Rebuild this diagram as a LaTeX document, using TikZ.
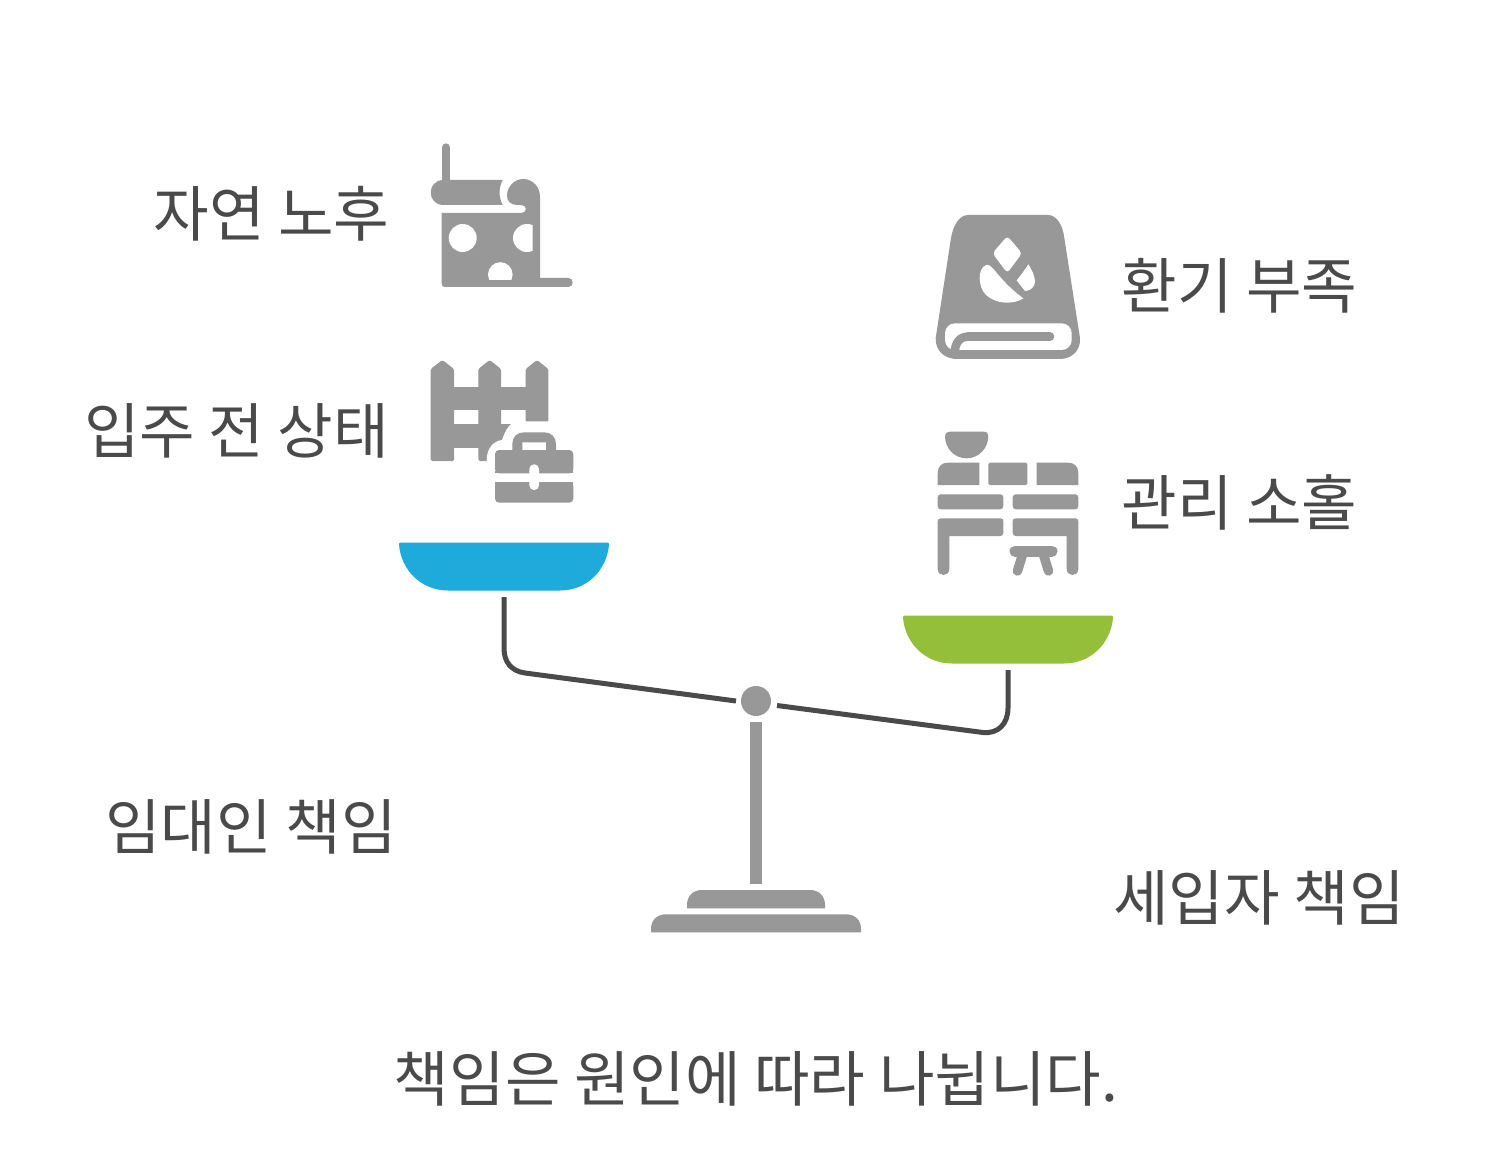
\documentclass[tikz,border=0pt]{standalone}
\usepackage{fontspec}
\setmainfont{Noto Sans CJK KR}
\definecolor{icongray}{HTML}{989898}
\definecolor{txt}{HTML}{4A4A4A}
\definecolor{panblue}{HTML}{1EABDC}
\definecolor{pangreen}{HTML}{93BF3A}
\tikzset{
  lab/.style={text=txt,inner sep=0pt,font=\fontsize{60.4}{60}\selectfont},
  ic/.style={fill=icongray,draw=none},
  wh/.style={fill=white,draw=none},
  beam/.style={draw=txt,line width=5pt,line cap=butt}
}
\begin{document}
\begin{tikzpicture}[x=1pt,y=-1pt]
\useasboundingbox (0,0) rectangle (1494,1155);
\fill[white] (0,0) rectangle (1494,1155);
% labels
\node[lab] (l1) at (271.5,214) {자연 노후};
\node[lab] (l2) at (236.5,431) {입주 전 상태};
\node[lab] (r1) at (1239.5,286) {환기 부족};
\node[lab] (r2) at (1239.5,502) {관리 소홀};
\node[lab] (lt) at (251,827) {임대인 책임};
\node[lab] (rt) at (1259,898) {세입자 책임};
\node[lab] (bt) at (756,1079) {책임은 원인에 따라 나뉩니다.};
% icon 1
\draw[icongray,line width=8.3pt,line cap=round] (445.85,147.5) -- (445.85,185);
\fill[ic] (443.5,180) -- (502.7,180) .. controls (498.5,188) and (498.5,197) .. (502.7,205) -- (443.5,205)
  .. controls (426.5,205) and (426.5,180) .. (443.5,180) -- cycle;
\fill[ic] (441.7,213) -- (520,213) .. controls (524,213) and (526,211) .. (526,209)
  .. controls (526,207) and (524,205) .. (520,205) -- (517,205)
  .. controls (511,205) and (507,201) .. (507,196)
  .. controls (507,186) and (515,179) .. (523,179)
  .. controls (533,179) and (540,187) .. (540,197) -- (540,278) -- (568.5,278)
  .. controls (574,278) and (574,287) .. (568.5,287) -- (445,287)
  .. controls (443,287) and (441.7,286) .. (441.7,284) -- cycle;
\fill[wh] (462.7,238) circle (14);
\begin{scope}
\clip (500,220) rectangle (532.7,260);
\fill[wh] (527,238) circle (14);
\end{scope}
\begin{scope}
\clip (480,255) rectangle (520,280);
\fill[wh] (500.3,274.5) circle (12.3);
\end{scope}
% icon 2
\foreach \a/\b in {430.7/454,478.3/501}{
  \fill[ic,rounded corners=1.5pt] (\a,461) -- (\a,369) -- ({(\a+\b)/2},360) -- (\b,369) -- (\b,461) -- cycle;
}
\fill[ic,rounded corners=1.5pt] (525.7,422.3) -- (525.7,369) -- (537,360) -- (548.3,369) -- (548.3,422.3) -- cycle;
\fill[ic] (450,387.3) rectangle (530,410);
\fill[ic] (450,424) rectangle (530,447.7);
\fill[wh] (486.7,510) -- (486.7,460) .. controls (486.7,449) and (493,441) .. (502,440)
  .. controls (505,432) and (508,424) .. (516,421.5) -- (580,421.5) -- (580,510) -- cycle;
\fill[ic,even odd rule] (512.3,452) -- (512.3,444) .. controls (512.3,437) and (517,432.3) .. (524,432.3) -- (544,432.3)
  .. controls (551,432.3) and (556,437) .. (556,444) -- (556,452) -- cycle
  (522.3,452) -- (522.3,442.3) -- (546,442.3) -- (546,452) -- cycle;
\fill[ic,rounded corners=4pt] (495,473.3) -- (495,450) -- (573.3,450) -- (573.3,473.3) -- cycle;
\fill[ic,rounded corners=4pt] (495,482.3) -- (495,502.7) -- (573.3,502.7) -- (573.3,482.3) -- cycle;
\fill[ic] (495,471) rectangle (573.3,473.3);
\fill[ic] (495,482.3) rectangle (573.3,485);
\fill[wh,rounded corners=4.7pt] (529.3,490) rectangle (539,464.3);
% icon 3
\fill[ic] (968,215) -- (1048,215) .. controls (1057,215) and (1063,226) .. (1064.3,238)
  -- (1080,338) .. controls (1081,350) and (1072,359) .. (1060,359) -- (957,359)
  .. controls (944,359) and (935,350) .. (935.7,338) -- (951,238)
  .. controls (953,226) and (959,215) .. (968,215) -- cycle;
\fill[wh,rounded corners=10pt] (945,323.3) rectangle (1071.7,350);
\draw[icongray,line width=8.5pt,line cap=round] (1050,336.7) -- (968,336.7);
\draw[icongray,line width=8.5pt] (968,336.7) .. controls (960,336.7) and (955,342) .. (954.5,354);
\fill[wh,rounded corners=3.5pt] (1007.3,236) -- (1022,253.3) -- (1007.3,273) -- (992.5,253.3) -- cycle;
\fill[wh] (1028.3,264.3) .. controls (1031,268) and (1035,276) .. (1035,281.7)
  .. controls (1035,287) and (1030,291) .. (1025,291) -- (1016.7,280.5) .. controls (1020,276) and (1025,270) .. (1028.3,264.3) -- cycle;
\fill[wh] (986,265) .. controls (992,262) and (997,279) .. (1023.5,298.5)
  .. controls (1012,305) and (996,304) .. (986,295)
  .. controls (978,287) and (977,269) .. (986,265) -- cycle;
% icon 4
\fill[ic] (950,431.7) -- (983,431.7) .. controls (987,431.7) and (988.3,433) .. (988.3,436)
  .. controls (988.3,448) and (979,458.3) .. (966.6,458.3)
  .. controls (954,458.3) and (945,448) .. (945,436)
  .. controls (945,433) and (947,431.7) .. (950,431.7) -- cycle;
\fill[ic] (948,462.7) -- (979.3,462.7) -- (979.3,485) -- (937.7,485) -- (937.7,473) .. controls (937.7,466) and (942,462.7) .. (948,462.7) -- cycle;
\fill[ic,rounded corners=1.5pt] (988.3,462.7) rectangle (1027.3,485);
\fill[ic] (1036.7,462.7) -- (1068,462.7) .. controls (1074,462.7) and (1078.3,466) .. (1078.3,473) -- (1078.3,485) -- (1036.7,485) -- cycle;
\fill[ic,rounded corners=3pt] (937.7,494.3) rectangle (1003.3,509.3);
\fill[ic,rounded corners=3pt] (1012.7,494.3) rectangle (1078.3,509.3);
\fill[ic] (941,518.3) -- (1000.3,518.3) .. controls (1002.5,518.3) and (1003.3,519.5) .. (1003.3,521) -- (1003.3,533)
  .. controls (1003.3,535) and (1002,536) .. (1000.3,536) -- (949.3,536) -- (949.3,569)
  .. controls (949.3,577) and (937.7,577) .. (937.7,569) -- (937.7,521) .. controls (937.7,519.5) and (939,518.3) .. (941,518.3) -- cycle;
\fill[ic] (1075.3,518.3) -- (1016,518.3) .. controls (1013.5,518.3) and (1012.7,519.5) .. (1012.7,521) -- (1012.7,533)
  .. controls (1012.7,535) and (1014,536) .. (1016,536) -- (1066.7,536) -- (1066.7,569)
  .. controls (1066.7,577) and (1078.3,577) .. (1078.3,569) -- (1078.3,521) .. controls (1078.3,519.5) and (1077,518.3) .. (1075.3,518.3) -- cycle;
\draw[icongray,line width=11pt,line cap=round] (1015,551.2) -- (1052,551.2);
\draw[icongray,line width=9.5pt,line cap=round] (1023,553) -- (1017.5,571);
\draw[icongray,line width=9.5pt,line cap=round] (1043,553) -- (1048.5,571);
% pans
\fill[panblue] (401,542.5) -- (607,542.5) .. controls (608.5,542.5) and (609,543.5) .. (609,544.5)
  .. controls (607,570) and (587,590.5) .. (560,590.5) -- (448,590.5)
  .. controls (421,590.5) and (401,570) .. (399,544.5) .. controls (399,543.5) and (399.5,542.5) .. (401,542.5) -- cycle;
\fill[pangreen] (905,615.5) -- (1111,615.5) .. controls (1112.5,615.5) and (1113,616.5) .. (1113,617.5)
  .. controls (1111,643) and (1091,663.5) .. (1064,663.5) -- (952,663.5)
  .. controls (925,663.5) and (905,643) .. (903,617.5) .. controls (903,616.5) and (903.5,615.5) .. (905,615.5) -- cycle;
% beam
\coordinate (bl) at (504,597);
\coordinate (br) at (1008,670);
\draw[beam] (bl) -- (504,648) .. controls (504,662) and (511,671) .. (525,673) -- (736,701);
\draw[beam] (br) -- (1008,708) .. controls (1008,724) and (998,734) .. (983,732.5) -- (777,705.5);
% stand
\node[circle,fill=icongray,minimum size=30pt,inner sep=0pt] (pivot) at (756,701) {};
\fill[ic] (750,722.3) rectangle (762,884.3);
\fill[ic] (687,908.3) -- (687,905) .. controls (687,896) and (693,890) .. (702,890) -- (810,890)
  .. controls (819,890) and (825,896) .. (825,905) -- (825,908.3) -- cycle;
\fill[ic] (651,932.3) -- (651,929) .. controls (651,920) and (657,914.3) .. (666,914.3) -- (846,914.3)
  .. controls (855,914.3) and (861,920) .. (861,929) -- (861,932.3) -- cycle;
\end{tikzpicture}
\end{document}
